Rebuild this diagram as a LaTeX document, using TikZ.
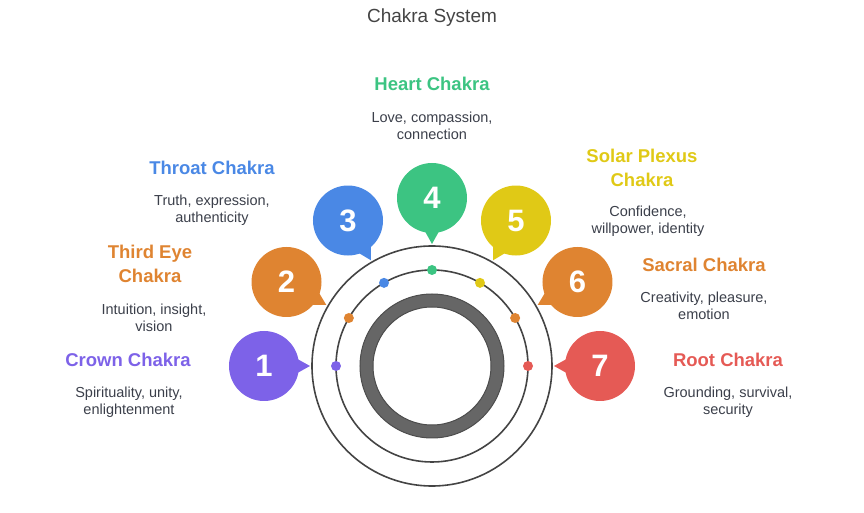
\documentclass[tikz,border=0pt]{standalone}
\usepackage{fontspec}
\setmainfont{Liberation Sans}
\usetikzlibrary{calc}

\definecolor{crownC}{HTML}{7D62E8}
\definecolor{eyeC}{HTML}{DF8431}
\definecolor{throatC}{HTML}{4A88E5}
\definecolor{heartC}{HTML}{3CC482}
\definecolor{solarC}{HTML}{E0C916}
\definecolor{sacralC}{HTML}{DF8431}
\definecolor{rootC}{HTML}{E55A55}
\definecolor{titleC}{HTML}{444444}
\definecolor{descC}{HTML}{3B3F4A}
\definecolor{ringC}{HTML}{444444}
\definecolor{padC}{HTML}{666666}
\definecolor{padEdge}{HTML}{4D4D4D}

\tikzset{
  bubble/.style={circle, minimum size=70pt, inner sep=0pt, text=white,
    font=\fontsize{31}{31}\selectfont\bfseries},
  dot/.style={circle, minimum size=10pt, inner sep=0pt},
  head/.style={align=center, inner sep=0pt, font=\fontsize{18.5}{24}\selectfont\bfseries},
  desc/.style={align=center, inner sep=0pt, text=descC, font=\fontsize{14.5}{17}\selectfont},
}

\begin{document}
\begin{tikzpicture}[x=1pt,y=1pt]
\useasboundingbox (-432,-147) rectangle (432,366);
\coordinate (hub) at (0,0);

\node[font=\fontsize{19}{19}\selectfont, text=titleC] (title) at (0,348) {Chakra System};

% rings round the hub
\draw[ringC, line width=1.6] (hub) circle (120);
\draw[ringC, line width=1.6] (hub) circle (96);
\draw[fill=padC, draw=padEdge, line width=1, even odd rule] (hub) circle (72) (hub) circle (59);

% numbered bubbles with tails, and dots on the inner ring
\foreach \n/\ang/\col in {1/180/crownC, 2/150/eyeC, 3/120/throatC, 4/90/heartC,
                          5/60/solarC, 6/30/sacralC, 7/0/rootC}{
  \fill[\col] ($(\ang:140)+(\ang+90:10)$) -- (\ang:122) -- ($(\ang:140)+(\ang-90:10)$) -- cycle;
  \node[bubble, fill=\col] (b\n) at (\ang:168) {\n};
  \node[dot, fill=\col] (d\n) at (\ang:96) {};
}

% labels
\node[head, text=heartC] (heartH) at (0,282) {Heart Chakra};
\node[desc] (heartD) at (0,240.5) {Love, compassion,\\connection};

\node[head, text=throatC] (throatH) at (-220,198) {Throat Chakra};
\node[desc] (throatD) at (-220,156) {Truth, expression,\\authenticity};

\node[head, text=eyeC] (eyeH) at (-282,102) {Third Eye\\Chakra};
\node[desc] (eyeD) at (-278,48.5) {Intuition, insight,\\vision};

\node[head, text=crownC] (crownH) at (-304,6) {Crown Chakra};
\node[desc] (crownD) at (-303,-36) {Spirituality, unity,\\enlightenment};

\node[head, text=solarC] (solarH) at (210,198) {Solar Plexus\\Chakra};
\node[desc] (solarD) at (216,144.5) {Confidence,\\willpower, identity};

\node[head, text=sacralC] (sacralH) at (272,101.5) {Sacral Chakra};
\node[desc] (sacralD) at (272,60.5) {Creativity, pleasure,\\emotion};

\node[head, text=rootC] (rootH) at (296,6) {Root Chakra};
\node[desc] (rootD) at (296,-36) {Grounding, survival,\\security};

\end{tikzpicture}
\end{document}
